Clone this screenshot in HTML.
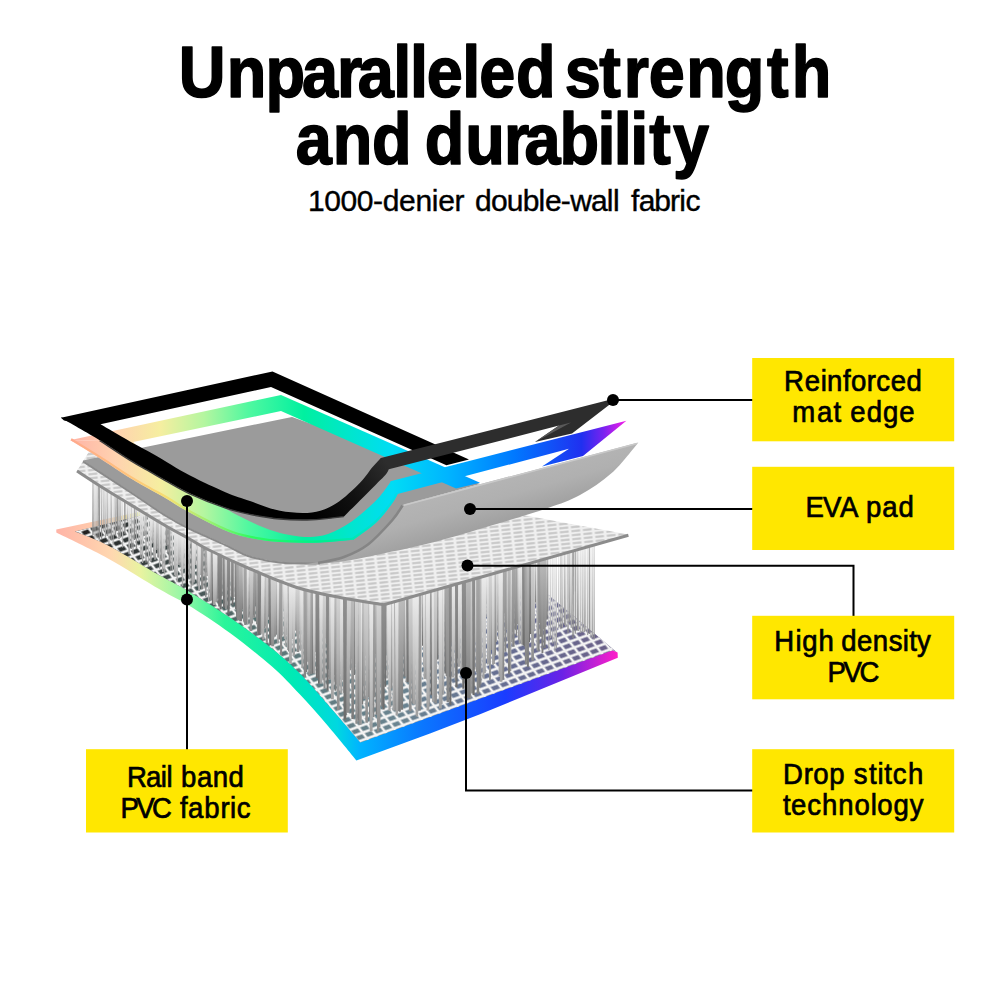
<!DOCTYPE html>
<html lang="en"><head><meta charset="utf-8"><title>Unparalleled strength and durability</title>
<style>
html,body{margin:0;padding:0;background:#fff;}
body{width:1000px;height:1000px;overflow:hidden;position:relative;}
svg{position:absolute;left:0;top:0;display:block;}
text{font-family:"Liberation Sans",sans-serif;fill:#000;}
.t{font-weight:bold;font-size:72px;stroke:#000;stroke-width:1.6px;stroke-linejoin:round;}
.s{font-size:30px;stroke:#000;stroke-width:.4px;}
.l{font-size:29px;stroke:#000;stroke-width:.7px;}
</style></head><body>
<svg width="1000" height="1000" viewBox="0 0 1000 1000">
<defs>
<linearGradient id="rb" gradientUnits="userSpaceOnUse" x1="71" y1="0" x2="626" y2="0">
<stop offset="0" stop-color="#ffb3a6"/>
<stop offset=".08" stop-color="#ffd2b0"/>
<stop offset=".16" stop-color="#f6eea0"/>
<stop offset=".24" stop-color="#b4f6a0"/>
<stop offset=".32" stop-color="#50f8a0"/>
<stop offset=".42" stop-color="#00f0a0"/>
<stop offset=".50" stop-color="#00e6cc"/>
<stop offset=".58" stop-color="#00dcf5"/>
<stop offset=".68" stop-color="#00b4ff"/>
<stop offset=".80" stop-color="#0078ff"/>
<stop offset=".92" stop-color="#2030f0"/>
<stop offset=".96" stop-color="#7a22f0"/>
<stop offset="1" stop-color="#f51ee6"/>
</linearGradient>
<linearGradient id="rbe" gradientUnits="userSpaceOnUse" x1="71" y1="0" x2="400" y2="0">
<stop offset="0" stop-color="#ffa98c"/>
<stop offset=".18" stop-color="#ffc47a"/>
<stop offset=".3" stop-color="#f4e070"/>
<stop offset=".42" stop-color="#9cf070"/>
<stop offset=".55" stop-color="#30fa60"/>
<stop offset=".75" stop-color="#00f088"/>
<stop offset=".9" stop-color="#00e4c4"/>
<stop offset="1" stop-color="#00dcec"/>
</linearGradient>
<linearGradient id="rb2" gradientUnits="userSpaceOnUse" x1="56" y1="0" x2="618" y2="0">
<stop offset="0" stop-color="#ffb3a6"/>
<stop offset=".10" stop-color="#ffd8b0"/>
<stop offset=".15" stop-color="#e9f3a0"/>
<stop offset=".22" stop-color="#9cf7a6"/>
<stop offset=".30" stop-color="#2af59a"/>
<stop offset=".42" stop-color="#00eab4"/>
<stop offset=".50" stop-color="#00d8e0"/>
<stop offset=".54" stop-color="#00b4ff"/>
<stop offset=".65" stop-color="#0a78ff"/>
<stop offset=".80" stop-color="#1a3cff"/>
<stop offset=".90" stop-color="#6a22e6"/>
<stop offset="1" stop-color="#ff1ec8"/>
</linearGradient>
<linearGradient id="pad" gradientUnits="userSpaceOnUse" x1="500" y1="460" x2="520" y2="530">
<stop offset="0" stop-color="#b8b8b8"/>
<stop offset=".5" stop-color="#b0b0b0"/>
<stop offset="1" stop-color="#989898"/>
</linearGradient>
<linearGradient id="blk" gradientUnits="userSpaceOnUse" x1="310" y1="515" x2="385" y2="460">
<stop offset="0" stop-color="#000"/>
<stop offset=".5" stop-color="#111"/>
<stop offset="1" stop-color="#2d2d2d"/>
</linearGradient>
<linearGradient id="f1" x1="0" y1="0" x2="0" y2="1">
<stop offset="0" stop-color="#d4d4d4"/><stop offset=".5" stop-color="#b4b4b4"/><stop offset="1" stop-color="#8c8c8c"/>
</linearGradient>
<linearGradient id="f2" x1="0" y1="0" x2="0" y2="1">
<stop offset="0" stop-color="#bcbcbc"/><stop offset="1" stop-color="#7a7a7a"/>
</linearGradient>
<linearGradient id="f3" x1="0" y1="0" x2="0" y2="1">
<stop offset="0" stop-color="#ececec"/><stop offset=".6" stop-color="#c4c4c4"/><stop offset="1" stop-color="#a0a0a0"/>
</linearGradient>
<linearGradient id="f5" x1="0" y1="0" x2="0" y2="1">
<stop offset="0" stop-color="#909090"/><stop offset="1" stop-color="#6c6c6c"/>
</linearGradient>
<linearGradient id="f4" x1="0" y1="0" x2="0" y2="1">
<stop offset="0" stop-color="#a8a8a8"/><stop offset="1" stop-color="#848484"/>
</linearGradient>
<pattern id="m1" width="11.5" height="4" patternUnits="userSpaceOnUse" patternTransform="matrix(1 -0.1 0.11 1 0 0)">
<rect width="11.5" height="4" fill="#efefef"/>
<rect x="1.4" y="1" width="8.7" height="2" fill="#c6c6c6"/>
</pattern>
<pattern id="m2" width="9.6" height="7.3" patternUnits="userSpaceOnUse" patternTransform="matrix(0.9375 -0.344 0.616 0.795 3 0)">
<path d="M0,0H9.6V7.3H0Z M1.3,1.3V6H8.3V1.3Z" fill="#f3f3f3" fill-rule="evenodd"/>
</pattern>
<linearGradient id="mg" gradientUnits="userSpaceOnUse" x1="74" y1="0" x2="612" y2="0">
<stop offset="0" stop-color="#1c1c1c"/>
<stop offset=".15" stop-color="#3a4242"/>
<stop offset=".35" stop-color="#5a7474"/>
<stop offset=".6" stop-color="#6a8490"/>
<stop offset=".8" stop-color="#666e92"/>
<stop offset="1" stop-color="#6a6088"/>
</linearGradient>
</defs>

<g id="bottom">
<path fill="url(#rb2)" d="M56.3,532.6 C64.9,536.9 90.7,549 108,558.5 C125.3,568 146.7,581.9 160,589.6 C173.3,597.4 176.3,597.8 188,605 C199.7,612.2 216,622.7 230,633 C244,643.3 260.3,656.3 272,666.6 C283.7,676.9 290.7,684.7 300,694.6 C309.3,704.5 318.6,715 328,726 C337.4,737 351.7,754.7 356.4,760.4 L356.4,760.4 L430,733.6 L430,733.6 L480,714.2 L480,714.2 L617.8,657.8 L617.8,657.8 L617.6,652.6 L617.6,652.6 L612,650 L612,650 L384,460 L384,460 L56.3,529.5 Z"/>
<path fill="url(#mg)" d="M75,531.5 C80.5,533.8 93.8,538.1 108,545.5 C122.2,552.9 146.7,568 160,575.6 C173.3,583.2 176.3,584 188,591 C199.7,598 216,608 230,617.6 C244,627.2 260.3,639.1 272,648.4 C283.7,657.7 290.3,663.8 300,673.6 C309.7,683.4 319.9,695.5 330,707 C340.1,718.5 355.4,736.5 360.5,742.4 L360.5,742.4 L613,650.3 L613,650.3 L616.5,652 L616.5,652 L384,456.5 L384,456.5 L75,531.5 Z"/>
<path fill="url(#m2)" d="M75,531.5 C80.5,533.8 93.8,538.1 108,545.5 C122.2,552.9 146.7,568 160,575.6 C173.3,583.2 176.3,584 188,591 C199.7,598 216,608 230,617.6 C244,627.2 260.3,639.1 272,648.4 C283.7,657.7 290.3,663.8 300,673.6 C309.7,683.4 319.9,695.5 330,707 C340.1,718.5 355.4,736.5 360.5,742.4 L360.5,742.4 L613,650.3 L613,650.3 L616.5,652 L616.5,652 L384,456.5 L384,456.5 L75,531.5 Z"/>
</g>
<g id="fib">
<path d="M126.4,501.8h2L128.1,521.6h-1.4Z" fill="url(#f3)"/>
<path d="M103.2,487.4h1.5L104.5,530.8h-1.1Z" fill="url(#f1)"/>
<path d="M116.2,495.5h1.9L117.9,531.1h-1.3Z" fill="url(#f4)"/>
<path d="M124,500.3h1.7L125.5,534.2h-1.2Z" fill="url(#f4)"/>
<path d="M92,480.4h2L93.7,535h-1.4Z" fill="url(#f1)"/>
<path d="M143.3,512h1.9L144.9,535.7h-1.4Z" fill="url(#f3)"/>
<path d="M114.2,494.4h2.2L116.1,535.8h-1.5Z" fill="url(#f1)"/>
<path d="M106.3,489.4h1.7L107.8,535.9h-1.2Z" fill="url(#f1)"/>
<path d="M119.8,497.7h1.7L121.3,537.7h-1.2Z" fill="url(#f1)"/>
<path d="M94.1,481.7h1.8L95.6,537.8h-1.2Z" fill="url(#f3)"/>
<path d="M104.7,488.3h1.5L106,537.9h-1.1Z" fill="url(#f3)"/>
<path d="M96.4,483.1h1.4L97.6,538.2h-1.1Z" fill="url(#f1)"/>
<path d="M100.7,486h1.9L102.2,538.7h-1.3Z" fill="url(#f1)"/>
<path d="M118,496.7h2L119.7,539h-1.4Z" fill="url(#f1)"/>
<path d="M98,484.4h2.2L99.9,539.6h-1.5Z" fill="url(#f4)"/>
<path d="M133.7,506.2h1.8L135.2,540h-1.3Z" fill="url(#f4)"/>
<path d="M110.2,491.9h2L111.9,540.3h-1.4Z" fill="url(#f1)"/>
<path d="M138.1,508.7h1.5L139.4,541.4h-1.1Z" fill="url(#f3)"/>
<path d="M151.8,516.9h1.6L153.1,543.3h-1.1Z" fill="url(#f3)"/>
<path d="M108.2,490.5h1.5L109.5,544.5h-1.1Z" fill="url(#f3)"/>
<path d="M112.5,493h1.3L113.7,545.3h-1.1Z" fill="url(#f3)"/>
<path d="M165.2,525.2h2.3L167.1,545.7h-1.6Z" fill="url(#f4)"/>
<path d="M121.9,498.9h1.5L123.2,547.6h-1.1Z" fill="url(#f3)"/>
<path d="M135.6,507.3h1.8L137.1,549h-1.3Z" fill="url(#f1)"/>
<path d="M130.5,504.2h1.5L131.8,549.1h-1.1Z" fill="url(#f1)"/>
<path d="M155.6,519.4h2.1L157.4,550h-1.5Z" fill="url(#f1)"/>
<path d="M167.1,526.1h1.8L168.6,553.1h-1.3Z" fill="url(#f4)"/>
<path d="M132.2,505.2h1.6L133.6,554.3h-1.2Z" fill="url(#f3)"/>
<path d="M128.1,502.9h2.2L129.9,554.3h-1.5Z" fill="url(#f3)"/>
<path d="M153,517.7h1.6L154.4,556.8h-1.1Z" fill="url(#f1)"/>
<path d="M156.9,520.3h2.3L158.9,557.5h-1.6Z" fill="url(#f1)"/>
<path d="M139.9,510h2.1L141.7,557.9h-1.5Z" fill="url(#f3)"/>
<path d="M185.6,536.4h2.4L187.6,559.3h-1.7Z" fill="url(#f3)"/>
<path d="M153.8,518.4h2.4L155.9,559.8h-1.7Z" fill="url(#f3)"/>
<path d="M159.9,522.1h2.5L162,561h-1.7Z" fill="url(#f1)"/>
<path d="M149.4,515.9h2.7L151.7,561.2h-1.9Z" fill="url(#f3)"/>
<path d="M145.1,513h1.8L146.6,562.8h-1.2Z" fill="url(#f1)"/>
<path d="M141.8,511h1.7L143.2,563.1h-1.2Z" fill="url(#f3)"/>
<path d="M168.4,526.9h2.1L170.2,564.6h-1.5Z" fill="url(#f4)"/>
<path d="M194.6,541.4h1.9L196.3,564.9h-1.4Z" fill="url(#f3)"/>
<path d="M177.7,532.1h2.5L179.8,565.1h-1.7Z" fill="url(#f3)"/>
<path d="M179.2,532.8h1.9L180.8,566.5h-1.3Z" fill="url(#f3)"/>
<path d="M147.5,514.5h1.8L149.1,566.9h-1.3Z" fill="url(#f3)"/>
<path d="M182.8,534.8h2.2L184.7,568.5h-1.5Z" fill="url(#f3)"/>
<path d="M158.8,521.2h1.6L160.2,568.8h-1.1Z" fill="url(#f3)"/>
<path d="M171.8,528.6h1.6L173.2,570.5h-1.2Z" fill="url(#f3)"/>
<path d="M170.2,527.7h1.5L171.5,571.1h-1.1Z" fill="url(#f1)"/>
<path d="M161.7,523.1h2.4L163.7,571.9h-1.7Z" fill="url(#f3)"/>
<path d="M164,524.3h1.5L165.3,574.4h-1.1Z" fill="url(#f3)"/>
<path d="M199.6,544.5h2.7L201.9,574.7h-1.9Z" fill="url(#f3)"/>
<path d="M173.7,529.6h1.5L175,575.6h-1.1Z" fill="url(#f3)"/>
<path d="M187.4,537.2h1.5L188.7,575.6h-1.1Z" fill="url(#f4)"/>
<path d="M180.6,533.5h1.6L181.9,575.7h-1.1Z" fill="url(#f3)"/>
<path d="M206.1,548.1h2.5L208.2,576h-1.8Z" fill="url(#f3)"/>
<path d="M174.5,530.4h2.5L176.7,576.7h-1.7Z" fill="url(#f3)"/>
<path d="M221.7,555.4h2.3L223.6,577.2h-1.6Z" fill="url(#f1)"/>
<path d="M188.4,537.8h1.8L190,579.2h-1.3Z" fill="url(#f1)"/>
<path d="M229.8,559h1.9L231.4,580.4h-1.3Z" fill="url(#f3)"/>
<path d="M176.2,531.2h1.9L177.9,582.3h-1.3Z" fill="url(#f3)"/>
<path d="M192.8,540.5h2.5L194.9,582.5h-1.7Z" fill="url(#f3)"/>
<path d="M233.8,561h2.6L235.9,582.7h-1.8Z" fill="url(#f1)"/>
<path d="M184.6,535.8h2.1L186.3,583h-1.5Z" fill="url(#f3)"/>
<path d="M191.5,539.8h2.4L193.6,585.6h-1.7Z" fill="url(#f3)"/>
<path d="M196.5,542.4h1.7L197.9,585.7h-1.2Z" fill="url(#f1)"/>
<path d="M181.5,534.1h2.1L183.3,586.2h-1.5Z" fill="url(#f3)"/>
<path d="M225.7,557.4h3L228.2,587.3h-2.1Z" fill="url(#f1)"/>
<path d="M190.3,538.9h1.6L191.7,587.8h-1.1Z" fill="url(#f4)"/>
<path d="M223.4,556.2h2.6L225.6,588.2h-1.8Z" fill="url(#f5)"/>
<path d="M203.2,546.2h1.6L204.6,588.4h-1.1Z" fill="url(#f4)"/>
<path d="M208.8,549.4h2.1L210.6,588.4h-1.5Z" fill="url(#f3)"/>
<path d="M200.8,545.1h2.5L202.9,589.3h-1.8Z" fill="url(#f4)"/>
<path d="M197.8,543.5h2.7L200.1,590.9h-1.9Z" fill="url(#f3)"/>
<path d="M525.6,563.2h2.2L527.5,592.4h-1.5Z" fill="url(#f3)"/>
<path d="M240.5,564h2L242.2,592.5h-1.4Z" fill="url(#f1)"/>
<path d="M210.3,550.3h3.1L212.9,593.9h-2.1Z" fill="url(#f2)"/>
<path d="M220.2,554.8h3L222.7,596.1h-2.1Z" fill="url(#f1)"/>
<path d="M205,547.3h1.8L206.5,597.1h-1.3Z" fill="url(#f4)"/>
<path d="M232.2,560.4h3L234.8,597.1h-2.1Z" fill="url(#f3)"/>
<path d="M230.3,559.4h2.5L232.4,597.2h-1.7Z" fill="url(#f4)"/>
<path d="M519.9,564.8h2.3L521.8,597.9h-1.6Z" fill="url(#f2)"/>
<path d="M216.2,553.1h3.4L219.1,598.2h-2.3Z" fill="url(#f3)"/>
<path d="M513,566.7h2.4L515.1,599.5h-1.7Z" fill="url(#f4)"/>
<path d="M255.2,570.4h2.5L257.3,600h-1.7Z" fill="url(#f1)"/>
<path d="M209.3,549.9h3.2L212.1,600.1h-2.3Z" fill="url(#f1)"/>
<path d="M207.6,548.8h2.2L209.5,601h-1.5Z" fill="url(#f3)"/>
<path d="M214.9,552.5h3.3L217.7,601.7h-2.3Z" fill="url(#f2)"/>
<path d="M213.9,552h3.3L216.8,601.8h-2.3Z" fill="url(#f3)"/>
<path d="M533.8,560.8h2.6L536,602.6h-1.8Z" fill="url(#f5)"/>
<path d="M238,562.9h2.5L240.1,603.1h-1.7Z" fill="url(#f3)"/>
<path d="M485.8,574.5h2.2L487.7,603.2h-1.5Z" fill="url(#f2)"/>
<path d="M211.2,550.9h3.9L214.6,603.4h-2.7Z" fill="url(#f5)"/>
<path d="M248.3,567.6h2.3L250.3,603.4h-1.6Z" fill="url(#f1)"/>
<path d="M212.6,551.5h3.6L215.6,605.1h-2.5Z" fill="url(#f3)"/>
<path d="M254,570h2.9L256.4,605.2h-2Z" fill="url(#f5)"/>
<path d="M231.3,559.9h2.5L233.5,605.3h-1.8Z" fill="url(#f5)"/>
<path d="M535.4,560.4h2.2L537.2,605.7h-1.5Z" fill="url(#f3)"/>
<path d="M217.8,553.7h3L220.3,606.5h-2.1Z" fill="url(#f5)"/>
<path d="M228.1,558.4h2.7L230.4,606.6h-1.9Z" fill="url(#f3)"/>
<path d="M222.5,555.8h2.8L224.9,607.8h-1.9Z" fill="url(#f5)"/>
<path d="M279,579.9h2.5L281.2,608.6h-1.8Z" fill="url(#f4)"/>
<path d="M234.6,561.6h3.3L237.4,608.9h-2.3Z" fill="url(#f5)"/>
<path d="M224.6,556.9h3L227.1,609.1h-2.1Z" fill="url(#f1)"/>
<path d="M282.4,581.3h2.7L284.6,609.3h-1.9Z" fill="url(#f1)"/>
<path d="M241.5,564.6h2.6L243.7,609.4h-1.8Z" fill="url(#f2)"/>
<path d="M219,554.3h3.1L221.7,609.4h-2.2Z" fill="url(#f5)"/>
<path d="M546.6,557.2h2.3L548.5,609.9h-1.6Z" fill="url(#f3)"/>
<path d="M227,558h3.2L229.6,613.4h-2.2Z" fill="url(#f5)"/>
<path d="M503.4,569.5h1.9L505,613.6h-1.3Z" fill="url(#f1)"/>
<path d="M267.5,575.2h2.1L269.3,614.2h-1.4Z" fill="url(#f1)"/>
<path d="M251.9,569.2h3.3L254.8,614.3h-2.3Z" fill="url(#f1)"/>
<path d="M459.1,582.1h2.4L461.1,615.6h-1.7Z" fill="url(#f1)"/>
<path d="M266.4,574.9h2.6L268.6,616.1h-1.8Z" fill="url(#f3)"/>
<path d="M484.9,574.8h2.1L486.7,616.9h-1.5Z" fill="url(#f3)"/>
<path d="M251.3,568.9h2.8L253.7,617.3h-2Z" fill="url(#f5)"/>
<path d="M246.6,567.2h3.6L249.7,617.4h-2.6Z" fill="url(#f5)"/>
<path d="M253.1,569.6h2.9L255.5,617.9h-2Z" fill="url(#f4)"/>
<path d="M235.6,562.1h3.5L238.6,618h-2.4Z" fill="url(#f5)"/>
<path d="M261.2,572.7h2.3L263.1,618.8h-1.6Z" fill="url(#f5)"/>
<path d="M268.1,575.6h2.8L270.5,619.2h-2Z" fill="url(#f4)"/>
<path d="M545.4,557.4h2.8L547.8,619.4h-2Z" fill="url(#f2)"/>
<path d="M443.2,586.6h2.5L445.3,619.7h-1.7Z" fill="url(#f2)"/>
<path d="M521.7,564.3h2.2L523.6,619.7h-1.5Z" fill="url(#f3)"/>
<path d="M236.2,562.5h4L239.6,620.1h-2.8Z" fill="url(#f4)"/>
<path d="M238.6,563.6h4L242,621.2h-2.8Z" fill="url(#f2)"/>
<path d="M290.1,584.4h2.7L292.4,621.3h-1.9Z" fill="url(#f3)"/>
<path d="M242.5,565.1h2.9L245,621.4h-2Z" fill="url(#f1)"/>
<path d="M244.3,566.2h4L247.7,622h-2.8Z" fill="url(#f5)"/>
<path d="M568.8,550.9h1.8L570.4,622.5h-1.3Z" fill="url(#f1)"/>
<path d="M496.6,571.3h2.8L498.9,622.6h-1.9Z" fill="url(#f5)"/>
<path d="M538.5,559.4h3L541,623h-2.1Z" fill="url(#f5)"/>
<path d="M249.9,568.5h3.6L252.9,623.5h-2.5Z" fill="url(#f1)"/>
<path d="M246.2,566.8h2.8L248.5,624.1h-1.9Z" fill="url(#f3)"/>
<path d="M516.3,565.7h2.7L518.6,624.3h-1.9Z" fill="url(#f1)"/>
<path d="M255.6,570.7h3.5L258.6,624.3h-2.5Z" fill="url(#f4)"/>
<path d="M348.3,598.1h2.3L350.2,624.9h-1.6Z" fill="url(#f3)"/>
<path d="M563.7,552.4h1.4L564.9,625h-1.1Z" fill="url(#f1)"/>
<path d="M243.8,565.7h2.8L246.2,625.1h-2Z" fill="url(#f4)"/>
<path d="M263.9,574h3.3L266.7,626.6h-2.3Z" fill="url(#f3)"/>
<path d="M564.8,552.1h1.8L566.4,626.6h-1.3Z" fill="url(#f3)"/>
<path d="M544.3,557.8h2.6L546.5,627.1h-1.8Z" fill="url(#f1)"/>
<path d="M306.3,588.8h1.9L307.9,627.5h-1.3Z" fill="url(#f4)"/>
<path d="M561.7,553h1.6L563,627.8h-1.1Z" fill="url(#f3)"/>
<path d="M570.3,550.5h2L572,627.8h-1.4Z" fill="url(#f3)"/>
<path d="M488,573.9h2L489.7,628.1h-1.4Z" fill="url(#f4)"/>
<path d="M269.9,576.4h3L272.5,628.2h-2.1Z" fill="url(#f1)"/>
<path d="M558.1,554h1.2L559.3,628.4h-1.1Z" fill="url(#f3)"/>
<path d="M300,587.5h2.8L302.4,628.4h-1.9Z" fill="url(#f1)"/>
<path d="M263.2,573.6h2.5L265.4,628.5h-1.8Z" fill="url(#f5)"/>
<path d="M320.8,592.3h2.3L322.8,628.6h-1.6Z" fill="url(#f2)"/>
<path d="M505.5,568.9h2.2L507.4,629.2h-1.5Z" fill="url(#f1)"/>
<path d="M560.1,553.4h1.7L561.5,629.3h-1.2Z" fill="url(#f1)"/>
<path d="M541.9,558.4h3.3L544.7,629.4h-2.3Z" fill="url(#f2)"/>
<path d="M514,566.4h2.8L516.3,629.6h-1.9Z" fill="url(#f2)"/>
<path d="M298,587h2.7L300.2,629.8h-1.9Z" fill="url(#f3)"/>
<path d="M293.8,585.8h2.6L296,629.9h-1.8Z" fill="url(#f3)"/>
<path d="M532.6,561.1h2.7L534.9,630.1h-1.9Z" fill="url(#f3)"/>
<path d="M576.4,548.8h1.9L578,630.6h-1.3Z" fill="url(#f1)"/>
<path d="M271.8,577.2h3.5L274.8,630.8h-2.4Z" fill="url(#f2)"/>
<path d="M577.8,548.4h1.8L579.3,631.1h-1.3Z" fill="url(#f3)"/>
<path d="M249,568.1h3.6L252.1,631.1h-2.5Z" fill="url(#f1)"/>
<path d="M294.9,586.3h2.7L297.3,631.1h-1.9Z" fill="url(#f1)"/>
<path d="M495.6,571.6h2.6L497.8,631.2h-1.8Z" fill="url(#f3)"/>
<path d="M585,546.4h1.4L586.3,631.3h-1.1Z" fill="url(#f3)"/>
<path d="M481.2,575.8h2.3L483.2,631.8h-1.6Z" fill="url(#f3)"/>
<path d="M510.9,567.3h2.6L513.2,631.8h-1.8Z" fill="url(#f1)"/>
<path d="M583.6,546.7h1.7L585,632.1h-1.2Z" fill="url(#f3)"/>
<path d="M259.2,572h2.9L261.6,632.1h-2Z" fill="url(#f1)"/>
<path d="M581.7,547.2h2L583.4,632.3h-1.4Z" fill="url(#f3)"/>
<path d="M470.1,578.9h2.5L472.2,632.9h-1.7Z" fill="url(#f1)"/>
<path d="M567.1,551.4h1.8L568.7,633.1h-1.3Z" fill="url(#f1)"/>
<path d="M580,547.8h1.6L581.3,633.1h-1.1Z" fill="url(#f3)"/>
<path d="M574.5,549.3h1.4L575.8,633.7h-1.1Z" fill="url(#f4)"/>
<path d="M529.7,561.8h3.3L532.5,633.7h-2.3Z" fill="url(#f2)"/>
<path d="M259.9,572.4h3.3L262.7,633.7h-2.3Z" fill="url(#f3)"/>
<path d="M275.3,578.5h3.1L277.9,633.7h-2.2Z" fill="url(#f3)"/>
<path d="M588.7,545.3h1.2L589.9,633.9h-1.1Z" fill="url(#f4)"/>
<path d="M528.8,562.2h2.7L531.1,634h-1.9Z" fill="url(#f5)"/>
<path d="M256.3,571.1h3.9L259.7,634.6h-2.7Z" fill="url(#f2)"/>
<path d="M274.3,578.1h2.8L276.7,634.6h-2Z" fill="url(#f5)"/>
<path d="M257.5,571.5h3.7L260.6,634.9h-2.6Z" fill="url(#f5)"/>
<path d="M586.9,545.8h1.5L588.2,635.1h-1.1Z" fill="url(#f3)"/>
<path d="M285.9,582.7h2.4L288,635.2h-1.7Z" fill="url(#f2)"/>
<path d="M281.2,580.8h2.6L283.4,635.5h-1.8Z" fill="url(#f3)"/>
<path d="M515.3,566.1h2.1L517.2,636h-1.5Z" fill="url(#f4)"/>
<path d="M295.7,586.5h2.8L298.1,636.1h-2Z" fill="url(#f1)"/>
<path d="M272.8,577.7h3.7L276,636.5h-2.6Z" fill="url(#f1)"/>
<path d="M539.6,559.1h3L542.2,636.7h-2.1Z" fill="url(#f2)"/>
<path d="M591.9,544.4h1.2L593.1,637.4h-1.1Z" fill="url(#f3)"/>
<path d="M590.3,544.9h1.2L591.5,637.7h-1.1Z" fill="url(#f3)"/>
<path d="M324.5,593.1h1.9L326.1,637.9h-1.3Z" fill="url(#f4)"/>
<path d="M572.1,550h1.9L573.7,638.1h-1.3Z" fill="url(#f4)"/>
<path d="M549.9,556.3h1.5L551.2,638.2h-1.1Z" fill="url(#f3)"/>
<path d="M490.6,573.1h2.8L493,638.4h-2Z" fill="url(#f5)"/>
<path d="M497.5,571.1h2.8L499.9,639h-2Z" fill="url(#f4)"/>
<path d="M283.4,581.8h3.1L286,639.1h-2.2Z" fill="url(#f3)"/>
<path d="M291.1,584.8h3L293.7,639.1h-2.1Z" fill="url(#f3)"/>
<path d="M277.6,579.4h3L280.1,639.5h-2.1Z" fill="url(#f2)"/>
<path d="M261.7,573.1h3.2L264.4,639.5h-2.2Z" fill="url(#f3)"/>
<path d="M593.6,543.9h1.1L594.7,639.6h-1.1Z" fill="url(#f1)"/>
<path d="M517.7,565.4h2.3L519.6,640.2h-1.6Z" fill="url(#f1)"/>
<path d="M506.5,568.5h2.8L508.8,640.4h-1.9Z" fill="url(#f3)"/>
<path d="M318.9,591.8h2.5L321,641.2h-1.8Z" fill="url(#f5)"/>
<path d="M474.3,577.8h2.4L476.3,641.7h-1.7Z" fill="url(#f3)"/>
<path d="M494.6,571.9h2.9L497,642.1h-2Z" fill="url(#f3)"/>
<path d="M527.8,562.5h2.6L530,642.2h-1.8Z" fill="url(#f5)"/>
<path d="M509.3,567.7h3.3L512,642.3h-2.3Z" fill="url(#f4)"/>
<path d="M450.4,584.6h2.4L452.4,642.6h-1.7Z" fill="url(#f5)"/>
<path d="M265.4,574.5h2.9L267.8,642.7h-2Z" fill="url(#f1)"/>
<path d="M276.5,578.9h2.6L278.7,643.2h-1.8Z" fill="url(#f3)"/>
<path d="M552,555.7h1.7L553.4,643.5h-1.2Z" fill="url(#f3)"/>
<path d="M518.3,565.2h2.7L520.6,643.6h-1.9Z" fill="url(#f3)"/>
<path d="M325.5,593.4h2.2L327.4,643.6h-1.5Z" fill="url(#f1)"/>
<path d="M433.5,589.4h2.3L435.5,643.8h-1.6Z" fill="url(#f3)"/>
<path d="M520.2,564.5h3.5L523.2,644.6h-2.4Z" fill="url(#f3)"/>
<path d="M268.6,576h4L272,645h-2.8Z" fill="url(#f5)"/>
<path d="M522,564h3.5L525,645.3h-2.5Z" fill="url(#f5)"/>
<path d="M421.6,592.8h2.4L423.6,645.8h-1.7Z" fill="url(#f5)"/>
<path d="M420.5,593.1h1.9L422.2,646.1h-1.4Z" fill="url(#f1)"/>
<path d="M284.5,582.1h2.6L286.7,646.3h-1.8Z" fill="url(#f3)"/>
<path d="M270.6,576.9h4.1L274.1,646.3h-2.9Z" fill="url(#f1)"/>
<path d="M523.4,563.8h2.4L525.4,646.6h-1.7Z" fill="url(#f5)"/>
<path d="M511.7,567h3.4L514.6,646.8h-2.4Z" fill="url(#f4)"/>
<path d="M555.9,554.7h1.2L557,647.9h-1.1Z" fill="url(#f3)"/>
<path d="M543.3,558h2.8L545.6,648h-1.9Z" fill="url(#f2)"/>
<path d="M410.1,596.1h2.2L411.9,648h-1.5Z" fill="url(#f5)"/>
<path d="M302.4,588h2.7L304.7,648.7h-1.9Z" fill="url(#f2)"/>
<path d="M435.3,588.8h2.5L437.4,649.4h-1.7Z" fill="url(#f3)"/>
<path d="M286.5,583.1h3.3L289.4,649.9h-2.3Z" fill="url(#f3)"/>
<path d="M548.3,556.9h1.1L549.4,650h-1.1Z" fill="url(#f3)"/>
<path d="M489.3,573.3h3.2L492.1,650.1h-2.3Z" fill="url(#f1)"/>
<path d="M452.7,583.8h2.7L455,650.2h-1.9Z" fill="url(#f3)"/>
<path d="M536,560h3.4L538.9,650.6h-2.4Z" fill="url(#f3)"/>
<path d="M299,587.2h2.8L301.3,650.7h-1.9Z" fill="url(#f3)"/>
<path d="M537.3,559.8h2.7L539.6,651.2h-1.9Z" fill="url(#f4)"/>
<path d="M287.6,583.6h3.6L290.6,651.4h-2.5Z" fill="url(#f4)"/>
<path d="M554.3,555.1h1.3L555.5,651.6h-1.1Z" fill="url(#f3)"/>
<path d="M314.4,590.8h2.4L316.4,651.8h-1.7Z" fill="url(#f4)"/>
<path d="M504.1,569.2h2.6L506.3,651.8h-1.8Z" fill="url(#f4)"/>
<path d="M431.1,590h2.7L433.4,652h-1.9Z" fill="url(#f1)"/>
<path d="M296.3,586.7h3.4L299.2,652.1h-2.4Z" fill="url(#f1)"/>
<path d="M310.7,590h2.7L313,653h-1.9Z" fill="url(#f4)"/>
<path d="M541,558.7h2.7L543.4,653h-1.9Z" fill="url(#f2)"/>
<path d="M438.2,588h2.7L440.5,653.8h-1.9Z" fill="url(#f2)"/>
<path d="M385.2,603.2h2.1L386.9,653.8h-1.4Z" fill="url(#f2)"/>
<path d="M374.4,602.4h1.9L376,654.4h-1.3Z" fill="url(#f5)"/>
<path d="M437.1,588.2h3L439.7,654.4h-2.1Z" fill="url(#f3)"/>
<path d="M279.7,580.2h2.8L282.1,654.8h-2Z" fill="url(#f4)"/>
<path d="M402.2,598.3h2L403.9,654.9h-1.4Z" fill="url(#f1)"/>
<path d="M364.2,600.7h2.5L366.3,655.2h-1.7Z" fill="url(#f1)"/>
<path d="M493.4,572.2h2.9L495.9,655.6h-2.1Z" fill="url(#f2)"/>
<path d="M441.1,587.2h2.1L443,655.6h-1.5Z" fill="url(#f5)"/>
<path d="M292.2,585.3h3.4L295,655.7h-2.4Z" fill="url(#f3)"/>
<path d="M480,576.1h2.5L482.1,656.7h-1.7Z" fill="url(#f3)"/>
<path d="M456.8,582.8h2.2L458.6,657.8h-1.5Z" fill="url(#f5)"/>
<path d="M316.4,591.3h3L319,658h-2.1Z" fill="url(#f4)"/>
<path d="M350.3,598.4h2.1L352.1,659.3h-1.4Z" fill="url(#f4)"/>
<path d="M387,602.5h2.9L389.5,659.3h-2Z" fill="url(#f3)"/>
<path d="M435.9,588.6h3.1L438.6,659.5h-2.2Z" fill="url(#f5)"/>
<path d="M530.8,561.5h3.7L533.9,660.8h-2.6Z" fill="url(#f1)"/>
<path d="M306.3,589h3.5L309.3,661.8h-2.5Z" fill="url(#f3)"/>
<path d="M416.7,594.1h2.8L419,662.2h-1.9Z" fill="url(#f3)"/>
<path d="M464.9,580.3h3.1L467.5,662.4h-2.2Z" fill="url(#f4)"/>
<path d="M288.6,584h3.8L291.8,663.4h-2.7Z" fill="url(#f3)"/>
<path d="M414.4,594.8h2.3L416.4,663.6h-1.6Z" fill="url(#f3)"/>
<path d="M492.5,572.5h2.7L494.8,663.9h-1.9Z" fill="url(#f1)"/>
<path d="M524.4,563.4h2.9L526.9,664.4h-2Z" fill="url(#f4)"/>
<path d="M353.8,599h2.8L356.2,664.5h-2Z" fill="url(#f3)"/>
<path d="M486.6,574.2h2.7L488.9,664.6h-1.9Z" fill="url(#f3)"/>
<path d="M327.1,593.8h3L329.7,664.9h-2.1Z" fill="url(#f4)"/>
<path d="M460.6,581.5h3.3L463.4,665h-2.3Z" fill="url(#f4)"/>
<path d="M491.7,572.8h2.4L493.8,665.1h-1.7Z" fill="url(#f3)"/>
<path d="M422.8,592.4h2.1L424.6,666.3h-1.5Z" fill="url(#f3)"/>
<path d="M457.4,582.5h3.2L460.1,666.8h-2.2Z" fill="url(#f3)"/>
<path d="M526.5,562.8h2.8L528.9,667h-2Z" fill="url(#f2)"/>
<path d="M383.1,603.7h2.7L385.3,667.1h-1.9Z" fill="url(#f3)"/>
<path d="M336.1,595.9h2.5L338.2,667.8h-1.7Z" fill="url(#f1)"/>
<path d="M300.9,587.7h3.3L303.6,668h-2.3Z" fill="url(#f3)"/>
<path d="M308.4,589.5h3.4L311.3,668.4h-2.4Z" fill="url(#f1)"/>
<path d="M473.1,578h2.9L475.6,669.4h-2Z" fill="url(#f3)"/>
<path d="M378.4,603.1h2.9L380.9,669.6h-2Z" fill="url(#f2)"/>
<path d="M429,590.7h2.2L430.9,669.7h-1.5Z" fill="url(#f3)"/>
<path d="M349.1,598.2h2.7L351.4,670.3h-1.9Z" fill="url(#f1)"/>
<path d="M463.3,580.8h2.7L465.6,670.7h-1.9Z" fill="url(#f1)"/>
<path d="M508.3,567.9h3.5L511.3,671.1h-2.5Z" fill="url(#f3)"/>
<path d="M424.6,591.9h2.5L426.7,671.4h-1.7Z" fill="url(#f5)"/>
<path d="M329.4,594.4h3.3L332.2,671.4h-2.3Z" fill="url(#f4)"/>
<path d="M304.6,588.6h3.2L307.3,672h-2.3Z" fill="url(#f2)"/>
<path d="M475.5,577.4h2.6L477.8,672.3h-1.8Z" fill="url(#f1)"/>
<path d="M483.5,575.1h2.7L485.8,673.1h-1.9Z" fill="url(#f3)"/>
<path d="M311.3,590.2h3.4L314.1,673.4h-2.3Z" fill="url(#f5)"/>
<path d="M312.7,590.5h3.1L315.4,673.6h-2.2Z" fill="url(#f3)"/>
<path d="M443.9,586.4h2.8L446.2,673.6h-1.9Z" fill="url(#f5)"/>
<path d="M459.8,581.8h3.2L462.5,674.2h-2.2Z" fill="url(#f3)"/>
<path d="M309.7,589.8h3L312.2,674.3h-2.1Z" fill="url(#f4)"/>
<path d="M338.8,596.5h2.5L340.9,674.3h-1.7Z" fill="url(#f5)"/>
<path d="M507.5,568.2h3.3L510.3,674.3h-2.3Z" fill="url(#f2)"/>
<path d="M307.8,589.3h2.7L310.1,674.9h-1.9Z" fill="url(#f1)"/>
<path d="M353,598.8h2.1L354.9,675h-1.5Z" fill="url(#f5)"/>
<path d="M333.3,595.2h2.6L335.5,675.1h-1.8Z" fill="url(#f2)"/>
<path d="M500.1,570.2h3.6L503.2,675.1h-2.5Z" fill="url(#f5)"/>
<path d="M403.9,597.7h3L406.5,675.9h-2.1Z" fill="url(#f1)"/>
<path d="M498.1,570.8h3.4L501,675.9h-2.4Z" fill="url(#f3)"/>
<path d="M445.4,586h2.4L447.4,676.1h-1.7Z" fill="url(#f2)"/>
<path d="M447.4,585.2h3.4L450.3,676.5h-2.4Z" fill="url(#f5)"/>
<path d="M403,598h2.5L405.1,676.7h-1.7Z" fill="url(#f2)"/>
<path d="M303.4,588.3h3.2L306,677h-2.2Z" fill="url(#f4)"/>
<path d="M451.1,584.2h3.4L454,677.5h-2.4Z" fill="url(#f3)"/>
<path d="M315.5,591.1h2.9L317.9,678.3h-2Z" fill="url(#f5)"/>
<path d="M481.9,575.5h3.2L484.6,678.5h-2.2Z" fill="url(#f3)"/>
<path d="M386.1,602.8h2.5L388.2,678.6h-1.8Z" fill="url(#f3)"/>
<path d="M423.1,592.2h3.3L425.9,678.9h-2.3Z" fill="url(#f3)"/>
<path d="M328.1,594.1h3.3L330.9,679.2h-2.3Z" fill="url(#f1)"/>
<path d="M425.5,591.6h2.7L427.7,679.4h-1.9Z" fill="url(#f4)"/>
<path d="M501.6,569.9h3L504.2,679.7h-2.1Z" fill="url(#f4)"/>
<path d="M341,596.9h3L343.6,680h-2.1Z" fill="url(#f3)"/>
<path d="M488.7,573.6h2.6L490.9,680.1h-1.8Z" fill="url(#f1)"/>
<path d="M322.1,592.6h2.6L324.2,680.3h-1.8Z" fill="url(#f1)"/>
<path d="M454.1,583.5h2.5L456.2,680.5h-1.7Z" fill="url(#f3)"/>
<path d="M411,595.7h2.7L413.2,681.5h-1.9Z" fill="url(#f1)"/>
<path d="M407.5,596.7h2.8L409.9,681.5h-2Z" fill="url(#f3)"/>
<path d="M331.8,595h3.4L334.7,681.7h-2.4Z" fill="url(#f1)"/>
<path d="M499.3,570.5h3.6L502.4,681.8h-2.5Z" fill="url(#f3)"/>
<path d="M405.2,597.3h3L407.7,681.9h-2.1Z" fill="url(#f3)"/>
<path d="M406.1,597h3.4L409,682.2h-2.4Z" fill="url(#f5)"/>
<path d="M463.8,580.6h3.6L466.8,682.6h-2.5Z" fill="url(#f5)"/>
<path d="M391.2,601.3h3.3L394,682.8h-2.3Z" fill="url(#f3)"/>
<path d="M379.5,603.3h2.9L381.9,683.4h-2Z" fill="url(#f1)"/>
<path d="M337.7,596.3h2.7L340,683.4h-1.9Z" fill="url(#f1)"/>
<path d="M317.5,591.6h3.1L320.2,683.7h-2.2Z" fill="url(#f5)"/>
<path d="M319.2,592.1h3.7L322.3,683.8h-2.6Z" fill="url(#f3)"/>
<path d="M362.2,600.4h2.2L364.1,684.2h-1.5Z" fill="url(#f1)"/>
<path d="M478.8,576.4h3.1L481.5,684.6h-2.2Z" fill="url(#f1)"/>
<path d="M334.7,595.7h3.6L337.8,684.7h-2.5Z" fill="url(#f3)"/>
<path d="M383.9,603.4h2.6L386.2,686.8h-1.8Z" fill="url(#f5)"/>
<path d="M455,583.1h3.1L457.6,687.3h-2.2Z" fill="url(#f5)"/>
<path d="M477.7,576.6h3.3L480.5,687.4h-2.3Z" fill="url(#f2)"/>
<path d="M390.1,601.7h2.7L392.4,688.3h-1.9Z" fill="url(#f4)"/>
<path d="M323,592.9h3.1L325.6,688.7h-2.1Z" fill="url(#f1)"/>
<path d="M461.8,581.2h3.3L464.6,688.8h-2.3Z" fill="url(#f5)"/>
<path d="M366.3,601.1h2.5L368.4,689.9h-1.7Z" fill="url(#f3)"/>
<path d="M326,593.6h3L328.6,690.6h-2.1Z" fill="url(#f5)"/>
<path d="M334.1,595.4h2.9L336.5,690.8h-2Z" fill="url(#f2)"/>
<path d="M342.4,597.2h3L345,692.7h-2.1Z" fill="url(#f3)"/>
<path d="M339.7,596.7h3L342.3,693.5h-2.1Z" fill="url(#f3)"/>
<path d="M470.6,578.6h3.7L473.7,693.5h-2.6Z" fill="url(#f1)"/>
<path d="M476.2,577h3.6L479.2,693.8h-2.5Z" fill="url(#f4)"/>
<path d="M441.8,586.9h2.8L444.2,694.6h-2Z" fill="url(#f3)"/>
<path d="M472.1,578.3h3L474.7,695h-2.1Z" fill="url(#f5)"/>
<path d="M429.9,590.3h2.8L432.3,695.2h-1.9Z" fill="url(#f5)"/>
<path d="M376.1,602.7h2.4L378.2,695.9h-1.7Z" fill="url(#f1)"/>
<path d="M397.2,599.6h3L399.8,696.2h-2.1Z" fill="url(#f1)"/>
<path d="M372.9,602.2h2.9L375.3,697.1h-2Z" fill="url(#f4)"/>
<path d="M367,601.3h3.4L369.8,697.2h-2.4Z" fill="url(#f1)"/>
<path d="M465.9,580h3.4L468.8,697.3h-2.4Z" fill="url(#f2)"/>
<path d="M468.5,579.3h3.1L471.1,697.9h-2.2Z" fill="url(#f1)"/>
<path d="M467,579.6h3.8L470.2,698.3h-2.7Z" fill="url(#f2)"/>
<path d="M393.2,600.7h3.6L396.3,698.4h-2.5Z" fill="url(#f5)"/>
<path d="M362.9,600.5h2.8L365.2,698.9h-1.9Z" fill="url(#f1)"/>
<path d="M330.4,594.7h4L333.8,699.2h-2.8Z" fill="url(#f3)"/>
<path d="M431.5,589.7h3.9L434.8,701.8h-2.7Z" fill="url(#f3)"/>
<path d="M446,585.6h3.6L449.1,701.9h-2.5Z" fill="url(#f4)"/>
<path d="M356.1,599.4h3.3L358.9,703.1h-2.3Z" fill="url(#f3)"/>
<path d="M411.3,595.5h3.6L414.4,703.4h-2.5Z" fill="url(#f1)"/>
<path d="M433.8,589.1h3.7L436.9,703.6h-2.6Z" fill="url(#f1)"/>
<path d="M439.5,587.5h3.6L442.5,704.1h-2.5Z" fill="url(#f1)"/>
<path d="M360.1,600.1h3.6L363.2,704.4h-2.5Z" fill="url(#f2)"/>
<path d="M371,601.9h2.7L373.4,704.5h-1.9Z" fill="url(#f1)"/>
<path d="M412.4,595.2h3.8L415.6,704.6h-2.7Z" fill="url(#f3)"/>
<path d="M448.8,584.9h3L451.4,705h-2.1Z" fill="url(#f5)"/>
<path d="M418.7,593.4h3.5L421.7,705.7h-2.5Z" fill="url(#f3)"/>
<path d="M427.4,591h2.9L429.8,705.9h-2Z" fill="url(#f1)"/>
<path d="M380.3,603.5h3.8L383.5,706.5h-2.6Z" fill="url(#f4)"/>
<path d="M389,602h2.7L391.3,707h-1.9Z" fill="url(#f1)"/>
<path d="M399.3,599h3.4L402.2,708.5h-2.4Z" fill="url(#f1)"/>
<path d="M438.3,587.7h4.1L441.8,708.6h-2.9Z" fill="url(#f3)"/>
<path d="M381.8,603.7h3.2L384.6,709.5h-2.2Z" fill="url(#f5)"/>
<path d="M400.7,598.6h2.8L403.1,709.7h-2Z" fill="url(#f2)"/>
<path d="M336.4,596.1h3.8L339.6,710.1h-2.7Z" fill="url(#f1)"/>
<path d="M392,601h3.8L395.2,710.5h-2.7Z" fill="url(#f3)"/>
<path d="M417.5,593.7h3.9L420.8,710.5h-2.7Z" fill="url(#f4)"/>
<path d="M425.9,591.3h4L429.3,710.5h-2.8Z" fill="url(#f3)"/>
<path d="M394.2,600.4h3.4L397.1,710.8h-2.4Z" fill="url(#f4)"/>
<path d="M395.9,599.9h3.7L399.1,710.9h-2.6Z" fill="url(#f4)"/>
<path d="M387.9,602.2h3.3L390.7,711.1h-2.3Z" fill="url(#f3)"/>
<path d="M408.4,596.3h3.8L411.6,711.3h-2.7Z" fill="url(#f1)"/>
<path d="M398.3,599.3h3L400.8,711.7h-2.1Z" fill="url(#f2)"/>
<path d="M346.7,597.9h3.5L349.7,712.3h-2.5Z" fill="url(#f1)"/>
<path d="M345.2,597.7h4L348.6,712.8h-2.8Z" fill="url(#f1)"/>
<path d="M375.1,602.6h2.8L377.5,714.7h-1.9Z" fill="url(#f2)"/>
<path d="M344.5,597.5h2.7L346.8,715.1h-1.9Z" fill="url(#f1)"/>
<path d="M395,600.2h3.6L398.1,715.4h-2.5Z" fill="url(#f3)"/>
<path d="M415.1,594.4h3.8L418.2,716.6h-2.6Z" fill="url(#f3)"/>
<path d="M371.8,602h3L374.4,717.2h-2.1Z" fill="url(#f4)"/>
<path d="M368.6,601.5h2.7L370.9,717.3h-1.9Z" fill="url(#f5)"/>
<path d="M351,598.6h3.5L353.9,719h-2.5Z" fill="url(#f2)"/>
<path d="M343,597.3h3.9L346.3,719.5h-2.7Z" fill="url(#f5)"/>
<path d="M356.7,599.6h3.8L359.9,720.8h-2.6Z" fill="url(#f5)"/>
<path d="M365,600.9h3.5L367.9,722.7h-2.5Z" fill="url(#f1)"/>
<path d="M355,599.2h3.1L357.6,723.8h-2.2Z" fill="url(#f1)"/>
<path d="M359.3,599.9h2.9L361.8,724.4h-2Z" fill="url(#f3)"/>
<path d="M358.1,599.7h2.8L360.6,724.7h-2Z" fill="url(#f1)"/>
<path d="M377,603h4.1L380.4,727.4h-2.8Z" fill="url(#f1)"/>
<path d="M369.1,601.7h4.1L372.6,731.2h-2.9Z" fill="url(#f3)"/>
<path d="M376.5,602.8h3.3L379.3,731.6h-2.3Z" fill="url(#f1)"/>
</g>
<g id="mesh">
<path fill="url(#m1)" d="M77,471 C80.8,473.5 91.2,480.4 100,486 C108.8,491.6 119,497.7 130,504.4 C141,511.1 156,520.2 166,526 C176,531.8 183,535.3 190,539.2 C197,543.1 198.3,544.7 208,549.5 C217.7,554.3 233.3,561.7 248,568 C262.7,574.3 280.7,582.3 296,587.2 C311.3,592.1 325.3,594.6 340,597.5 C354.7,600.4 376.7,603.6 384,604.8 L384,604.8 L628.4,535.2 L628.4,534.5 C611.7,531.4 582.7,526.1 528,516 C473.3,505.9 373,485 300,474 C227,463 125,454 90,450 Z"/>
<path fill="none" stroke="#8c8c8c" stroke-width="3" stroke-linejoin="miter" d="M77,471 C80.8,473.5 91.2,480.4 100,486 C108.8,491.6 119,497.7 130,504.4 C141,511.1 156,520.2 166,526 C176,531.8 183,535.3 190,539.2 C197,543.1 198.3,544.7 208,549.5 C217.7,554.3 233.3,561.7 248,568 C262.7,574.3 280.7,582.3 296,587.2 C311.3,592.1 325.3,594.6 340,597.5 C354.7,600.4 376.7,603.6 384,604.8 L384,604.8 L628.4,535.2"/>
</g>
<g id="pad">
<path fill="#9b9b9b" d="M83,460.5 C90.8,465.6 116.2,482.1 130,491.2 C143.8,500.3 156,509 166,515.2 C176,521.4 180,523.5 190,528.4 C200,533.3 216.3,540 226,544.5 C235.7,549 239,552.3 248,555.2 C257,558.1 268,560.5 280,561.8 C292,563.1 309.3,563.4 320,562.8 C330.7,562.2 336,560.9 344,558 C352,555.1 360,551.3 368,545.2 C376,539.1 386.1,527.9 392,521.2 C397.9,514.5 401.3,507.7 403.2,505 L403.2,505 L480,484 L480,484 L292,417 L292,417 L144.4,447.2 L144.4,447.2 L83,460.5 Z"/>
<path fill="none" stroke="#8a8a8a" stroke-width="2" d="M83,461.3 C90.8,466.4 116.2,482.9 130,492 C143.8,501.1 156,509.8 166,516 C176,522.2 180,524.3 190,529.2 C200,534.1 216.3,540.8 226,545.3 C235.7,549.8 239,553.1 248,556 C257,558.9 268,561.3 280,562.6 C292,563.9 313.3,563.4 320,563.6"/>
<path fill="url(#pad)" d="M403.2,504.6 L638.4,442.4 L638.4,442.4 C634,447.5 621.7,464 612,472.8 C602.3,481.6 590.7,489.1 580,495 C569.3,500.9 561.3,503.3 548,508 C534.7,512.7 518,517.6 500,523 C482,528.4 458,535.6 440,540.4 C422,545.2 408,548.1 392,551.6 C376,555.1 359.3,559 344,561.2 C328.7,563.4 307.3,564.4 300,565 L300,565 C307.3,563.7 332.7,560.4 344,557 C355.3,553.6 360,550.6 368,544.5 C376,538.4 386.1,527.1 392,520.5 C397.9,513.9 401.3,507.2 403.2,504.6 Z"/>
<path fill="none" stroke="#858585" stroke-width="2.6" d="M318,563 C322.3,562 335.7,560.1 344,557 C352.3,553.9 360,550.6 368,544.5 C376,538.4 386.2,527 392,520.5 C397.8,514 400.8,508 402.5,505.5"/>
<path fill="none" stroke="#c9c9c9" stroke-width="1.6" d="M404,505.2 L637,443.6"/>
</g>
<g id="rain">
<path fill="url(#rb)" d="M70.8,440 L281,395 L281,411 L133.2,442 Z"/>
<path fill="url(#rb)" d="M281,395 L480,482.8 L456,488.4 L281,411 Z"/>
<path fill="url(#rb)" d="M70.5,440.3 C75.4,443.3 90.1,452.2 100,458.5 C109.9,464.8 121.7,472.8 130,478 C138.3,483.2 144,486.1 150,489.5 C156,492.9 159.3,494.5 166,498.4 C172.7,502.3 180,507.4 190,512.8 C200,518.2 216,526.6 226,530.8 C236,535 241,536.1 250,538 C259,539.9 268.3,541.3 280,542 C291.7,542.7 307.7,542.8 320,542.4 C332.3,542 348,540.1 353.6,539.6 L353.6,539.6 C357.3,536.8 369.6,528.8 376,522.8 C382.4,516.8 388.4,508.4 392,503.6 C395.6,498.8 396.7,495.6 397.6,494 L397.6,494 L569,448.8 L569,448.8 L542,466.4 L542,466.4 L583,456 L583,456 L626.4,420.8 L626.4,420.8 L390.4,481.2 L390.4,481.2 C390.1,481.7 391.2,481.2 388.8,484.4 C386.4,487.6 382.1,494.3 376,500.4 C369.9,506.5 360,515.6 352,521.2 C344,526.8 335,531.4 328,534 C321,536.6 315.3,536.7 310,537 C304.7,537.3 301,536.7 296,536 C291,535.3 286,534.7 280,533 C274,531.3 266.7,528.8 260,526 C253.3,523.2 245.7,519.3 240,516.5 C234.3,513.7 231,511.6 226,509 C221,506.4 216,504.2 210,501 C204,497.8 198.3,495.2 190,490 C181.7,484.8 169.5,478 160,470 C150.5,462 137.7,446.7 133.2,442 L133.2,442 L70.8,440 Z"/>
<path fill="none" stroke="url(#rbe)" stroke-width="2.2" d="M71.1,439.2 C76,442.2 90.7,451.1 100.6,457.4 C110.5,463.7 122.3,471.7 130.6,476.9 C138.9,482.1 144.6,485 150.6,488.4 C156.6,491.8 159.9,493.4 166.6,497.3 C173.3,501.2 180.6,506.3 190.6,511.7 C200.6,517.1 216.6,525.5 226.6,529.7 C236.6,533.9 241.6,535 250.6,536.9 C259.6,538.8 268.9,540.2 280.6,540.9 C292.3,541.6 308.3,541.7 320.6,541.3 C332.9,540.9 348.6,539 354.2,538.5 L352.8,538.8 C356.5,536 368.8,528 375.2,522 C381.6,516 387.6,507.6 391.2,502.8 C394.8,498 395.9,494.8 396.8,493.2"/>
</g>
<g id="black">
<path fill="#000" d="M61,417.8 L272.5,371.5 L469,459.6 L446.4,465.2 L271,387 L100.5,424.3 L104,428 L64,420.5 Z"/>
<path fill="url(#blk)" d="M61,417.8 C67.5,421.6 88.5,433.5 100,440.5 C111.5,447.5 121.7,454.8 130,460 C138.3,465.2 144,468.1 150,471.5 C156,474.9 159.3,476.9 166,480.6 C172.7,484.3 180,489 190,493.6 C200,498.2 216,504.6 226,508 C236,511.4 241,512.4 250,514.2 C259,516 269.7,517.9 280,518.8 C290.3,519.7 301.3,520 312,519.6 C322.7,519.2 338.7,516.9 344,516.4 L344,516.4 C349.3,511.1 369.1,491.3 376,484.4 C382.9,477.5 383.5,477.3 385.6,474.8 C387.7,472.3 388.3,470.1 388.8,469.2 L388.8,469.2 L559,425.6 L559,425.6 L535,442 L535,442 L572,433.6 L572,433.6 L611,403.5 L611,403.5 L608.8,400 L608.8,400 L380.8,458 L380.8,458 C379.5,459.5 376.3,462.7 372.8,466.8 C369.3,470.9 366.1,476.7 360,482.8 C353.9,488.9 344,498.7 336,503.6 C328,508.5 321.3,511.2 312,512.4 C302.7,513.6 290.3,512.7 280,510.8 C269.7,508.9 259,504.1 250,501 C241,497.9 236,496.6 226,492.4 C216,488.2 202,481.9 190,475.6 C178,469.3 164,460.2 154,454.5 C144,448.8 138.9,446.4 130,441.4 C121.1,436.4 105.4,427.1 100.5,424.3 L101,424.8 L61,417.5 Z"/>
<path d="M559,425.6 L571,422.6 L535,442 Z" fill="#595959"/>
<path fill="none" stroke="#3c3c3c" stroke-width="1.4" d="M99.7,440.7 C104.7,443.9 121.4,455 129.7,460.2 C138,465.4 143.7,468.3 149.7,471.7 C155.7,475.1 159,477.1 165.7,480.8 C172.4,484.5 179.7,489.2 189.7,493.8 C199.7,498.4 215.7,504.8 225.7,508.2 C235.7,511.6 240.7,512.6 249.7,514.4 C258.7,516.2 269.4,518.1 279.7,519 C290,519.9 301,520.2 311.7,519.8 C322.4,519.4 338.4,517.1 343.7,516.6"/>
</g>
<g id="lines" fill="none" stroke="#000" stroke-width="2">
<path d="M613,400 H753"/>
<path d="M470,509 H753"/>
<path d="M467.5,565.8 H853.5 V617"/>
<path d="M466,673 V790.5 H753"/>
<path d="M187,501 V750"/>
</g>
<g id="dots" fill="#000">
<circle cx="613" cy="400" r="6"/>
<circle cx="470" cy="509" r="6"/>
<circle cx="467.5" cy="565.5" r="6"/>
<circle cx="466" cy="673" r="6"/>
<circle cx="187" cy="501" r="6"/>
<circle cx="187" cy="599.5" r="6"/>
</g>
<g id="boxes" fill="#ffe700">
<rect x="752.2" y="358" width="202" height="83.3"/>
<rect x="752.2" y="466.8" width="202" height="83.2"/>
<rect x="752.2" y="615.8" width="202" height="83.5"/>
<rect x="752.2" y="749.2" width="202" height="83.3"/>
<rect x="86" y="749.2" width="201.8" height="83.3"/>
</g>
<text class="t" transform="scale(0.9000,1)" x="198.6 251.9 294.9 335.6 374.4 397.4 437 455.6 474.2 513.6 532.6 573.4 611.4 627.4 665.8 693.2 720.8 762.6 805.3 852.2 879.8" y="97.2">Unparalleled strength</text>
<text class="t" transform="scale(0.9000,1)" x="328.7 369.8 413.4 456 472 517 559.9 582.9 621.6 663.9 682 700.2 721.3 747.9" y="164.5">and durability</text>
<text class="s" transform="scale(1.0000,1)" x="307.9 324.2 340.5 356.8 373.1 382.8 399.1 415.4 431.7 438.2 454.5 467.3 475 490.9 506.8 522.7 538.6 544.9 560.8 570.3 590.9 606.8 613.1 622.3 630.9 638.7 654.3 670 679.3 685.6" y="210.8">1000-denier double-wall fabric</text>
<text class="l" transform="scale(0.9500,1)" x="825.4 847.1 863.9 870.6 887.3 895.7 912.5 922.5 937.6 954.3" y="391.3">Reinforced</text>
<text class="l" transform="scale(0.9500,1)" x="834 859.9 877.3 886.8 895.1 912.3 929.5 946.7" y="422.5">mat edge</text>
<text class="l" transform="scale(0.9500,1)" x="848 866.2 884.3 904 911.7 928.8 945.9" y="516.8">EVA pad</text>
<text class="l" transform="scale(0.9500,1)" x="815 837.5 844.4 861.7 877.2 885.5 902.1 918.8 935.4 950.4 957.1 965.4" y="651.3">High density</text>
<text class="l" transform="scale(0.9500,1)" x="871.1 888 904.8" y="682.5">PVC</text>
<text class="l" transform="scale(0.9500,1)" x="824.3 846.1 856.1 872.9 890 898.7 914.8 923.7 930.9 939.8 955.9" y="784.5">Drop stitch</text>
<text class="l" transform="scale(0.9500,1)" x="824.1 832.7 849.8 865.2 882.3 899.4 916.5 923.4 940.5 957.6" y="815.5">technology</text>
<text class="l" transform="scale(0.9500,1)" x="133.6 153.7 169.2 175.3 182.9 190.6 207.3 224 240.6" y="787.5">Rail band</text>
<text class="l" transform="scale(0.9500,1)" x="126.9 143.5 160 180.3 189.4 197.9 215 232 242.2 249.1" y="818.3">PVC fabric</text>
</svg>
</body></html>
